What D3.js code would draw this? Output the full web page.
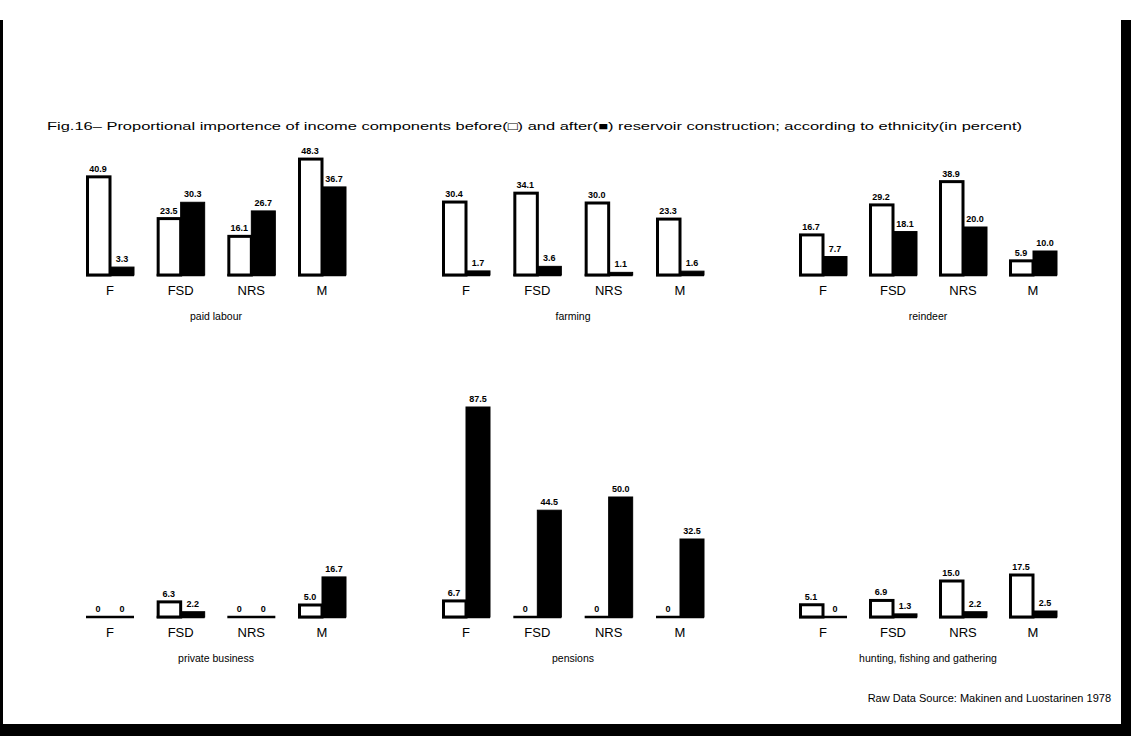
<!DOCTYPE html>
<html>
<head>
<meta charset="utf-8">
<script src="https://cdn.jsdelivr.net/npm/d3@7"></script>
<style>
  body { margin: 0; background: #fff; }
  svg { display: block; font-family: "Liberation Sans", Arial, sans-serif; }
</style>
</head>
<body>
<div id="chart"></div>
<script>
// categories and income components
const categories = ['F', 'FSD', 'NRS', 'M'];
const components = ['paid labour', 'farming', 'reindeer', 'private business', 'pensions', 'hunting, fishing and gathering'];

// percent values, before / after reservoir construction
const paidLabourBefore = [40.9, 23.5, 16.1, 48.3];
const paidLabourAfter  = [3.3, 30.3, 26.7, 36.7];
const farmingBefore    = [30.4, 34.1, 30.0, 23.3];
const farmingAfter     = [1.7, 3.6, 1.1, 1.6];
const reindeerBefore   = [16.7, 29.2, 38.9, 5.9];
const reindeerAfter    = [7.7, 18.1, 20.0, 10.0];
const businessBefore   = [0, 6.3, 0, 5.0];
const businessAfter    = [0, 2.2, 0, 16.7];
const pensionsBefore   = [6.7, 0, 0, 0];
const pensionsAfter    = [87.5, 44.5, 50.0, 32.5];
const huntingBefore    = [5.1, 6.9, 15.0, 17.5];
const huntingAfter     = [0, 1.3, 2.2, 2.5];

const titleText = 'Fig.16\u2013 Proportional importence of income components before(\u25A1) and after(\u25A0) reservoir construction; according to ethnicity(in percent)';
const sourceText = 'Raw Data Source: Makinen and Luostarinen 1978';

const panels = [
  { name: components[0], before: paidLabourBefore, after: paidLabourAfter, col: 0, row: 0 },
  { name: components[1], before: farmingBefore,    after: farmingAfter,    col: 1, row: 0 },
  { name: components[2], before: reindeerBefore,   after: reindeerAfter,   col: 2, row: 0 },
  { name: components[3], before: businessBefore,   after: businessAfter,   col: 0, row: 1 },
  { name: components[4], before: pensionsBefore,   after: pensionsAfter,   col: 1, row: 1 },
  { name: components[5], before: huntingBefore,    after: huntingAfter,    col: 2, row: 1 }
];

const width = 1131, height = 736;
const colRanges = [[110, 322], [466, 680], [823, 1033]];
const rowBase = [275, 617];
const fmt = v => v === 0 ? '0' : d3.format('.1f')(v);

const svg = d3.select('#chart').append('svg')
  .attr('width', width)
  .attr('height', height);

svg.append('rect').attr('width', width).attr('height', height).attr('fill', '#fff');

// frame of the scanned page
svg.append('rect').attr('x', 0).attr('y', 20).attr('width', 3).attr('height', height - 20).attr('fill', '#000');
svg.append('rect').attr('x', 1121).attr('y', 20).attr('width', 10).attr('height', height - 20).attr('fill', '#000');
svg.append('rect').attr('x', 0).attr('y', 724).attr('width', width).attr('height', 12).attr('fill', '#000');

svg.append('text')
  .attr('x', 47)
  .attr('y', 130)
  .attr('font-size', 10.5)
  .attr('textLength', 975)
  .attr('lengthAdjust', 'spacingAndGlyphs')
  .text(titleText);

svg.append('text')
  .attr('x', 1111)
  .attr('y', 702)
  .attr('text-anchor', 'end')
  .attr('font-size', 11)
  .text(sourceText);

const y0 = d3.scaleLinear().domain([0, 100]).range([0, 240]);
const sub = d3.scaleBand().domain(['before', 'after']).range([-24, 24]).paddingInner(0);

panels.forEach(p => {
  const base = rowBase[p.row];
  const x = d3.scalePoint().domain(categories).range(colRanges[p.col]);
  const y = d3.scaleLinear().domain([0, 100]).range([base, base - y0(100)]);
  const g = svg.append('g');

  const rows = [];
  categories.forEach((c, i) => {
    rows.push({ cat: c, key: 'before', v: p.before[i] });
    rows.push({ cat: c, key: 'after', v: p.after[i] });
  });

  // baseline stub under each group
  g.selectAll('line.base')
    .data(categories)
    .join('line')
    .attr('x1', d => x(d) + sub('before'))
    .attr('x2', d => x(d) + sub('after') + sub.bandwidth())
    .attr('y1', base)
    .attr('y2', base)
    .attr('stroke', '#000')
    .attr('stroke-width', 2.5);

  g.selectAll('rect.bar')
    .data(rows)
    .join('rect')
    .attr('x', d => x(d.cat) + sub(d.key) + (d.key === 'before' ? 1.5 : 0))
    .attr('width', d => sub.bandwidth() - (d.key === 'before' ? 1.5 : 0))
    .attr('y', d => y(d.v))
    .attr('height', d => base - y(d.v))
    .attr('fill', d => d.key === 'before' ? '#fff' : '#000')
    .attr('stroke', '#000')
    .attr('stroke-width', d => d.key === 'before' ? 3 : 1);

  g.selectAll('text.val')
    .data(rows)
    .join('text')
    .attr('x', d => x(d.cat) + sub(d.key) + sub.bandwidth() / 2)
    .attr('y', d => y(d.v) - 5)
    .attr('text-anchor', 'middle')
    .attr('font-size', 9)
    .attr('font-weight', 'bold')
    .text(d => fmt(d.v));

  g.selectAll('text.cat')
    .data(categories)
    .join('text')
    .attr('x', d => x(d))
    .attr('y', base + 20)
    .attr('text-anchor', 'middle')
    .attr('font-size', 13)
    .text(d => d);

  g.append('text')
    .attr('x', (colRanges[p.col][0] + colRanges[p.col][1]) / 2)
    .attr('y', base + 45)
    .attr('text-anchor', 'middle')
    .attr('font-size', 10.5)
    .text(p.name);
});
</script>
</body>
</html>
